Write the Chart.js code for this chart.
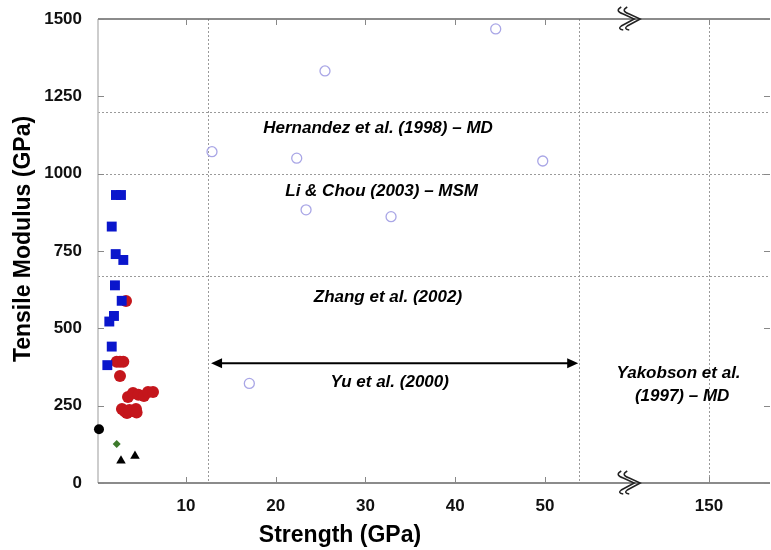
<!DOCTYPE html>
<html>
<head>
<meta charset="utf-8">
<script src="https://cdn.jsdelivr.net/npm/chart.js@4.4.1/dist/chart.umd.min.js"></script>
<style>
  html, body { margin: 0; padding: 0; background: #fff; }
  #wrap { width: 771px; height: 550px; }
</style>
</head>
<body>
<div id="wrap"><canvas id="myChart" width="771" height="550"></canvas></div>
<script>
// data (strength in GPa, modulus in GPa)
const squareX = [2.2, 2.76, 1.73, 2.17, 3.02, 2.09, 2.84, 1.98, 1.46, 1.73, 1.24];
const squareY = [931, 931, 829, 740, 721, 639, 589, 540, 522, 441, 381];

const redX = [3.32, 2.28, 2.65, 3.02, 2.65, 3.54, 4.1, 4.7, 5.32, 5.77, 6.33, 2.87, 3.43, 3.99, 4.43, 3.2, 3.7, 4.5];
const redY = [588, 392, 392, 392, 346, 278, 291, 285, 281, 294, 294, 239, 226, 233, 239, 231, 236, 228];

const blackX = [0.31];
const blackY = [174];

const diamondX = [2.28];
const diamondY = [126];

const triangleX = [2.76, 4.32];
const triangleY = [72, 87];

const openX = [12.9, 22.34, 49.75, 23.38, 32.85, 44.51, 25.49, 17.06];
const openY = [1071, 1050, 1041, 883, 861, 1468, 1332, 322];

const xTicks = [10, 20, 30, 40, 50, 150];
const yTicks = [0, 250, 500, 750, 1000, 1250, 1500];

// reference lines of the regions
const vLines = [12.5, 53.8, 150];
const hLines = [670, 1000, 1200];

// Yu et al. range arrow
const yuRange = [12.8, 53.7];
const yuArrowY = 387;

const notes = [
    { text: 'Hernandez et al. (1998) – MD', x: 31.4, y: 1148 },
    { text: 'Li & Chou (2003) – MSM', x: 31.8, y: 942 },
    { text: 'Zhang et al. (2002)', x: 32.5, y: 601 },
    { text: 'Yu et al. (2000)', x: 32.7, y: 324 },
    { text: 'Yakobson et al.', x: 146.6, y: 356 },
    { text: '(1997) – MD', x: 147.0, y: 281 }
];

// broken x axis: values past the gap are shifted left
const breakAt = 59.5;
const pos150 = 68.28;
function toAxis(v) {
    return v > 100 ? v - 150 + pos150 : v;
}

function pts(xs, ys) {
    return xs.map((x, i) => ({ x: toAxis(x), y: ys[i] }));
}

function zigzag(ctx, cx, cy) {
    ctx.save();
    ctx.strokeStyle = '#222';
    ctx.lineWidth = 1.5;
    [-3, 3].forEach(function (dx) {
        const x = cx + dx;
        ctx.beginPath();
        ctx.moveTo(x - 6, cy - 12);
        ctx.quadraticCurveTo(x - 13, cy - 8, x - 4, cy - 5);
        ctx.lineTo(x + 7, cy);
        ctx.lineTo(x - 6, cy + 7);
        ctx.quadraticCurveTo(x - 10, cy + 10, x - 4, cy + 11);
        ctx.stroke();
    });
    ctx.restore();
}

const decor = {
    id: 'decor',
    beforeDatasetsDraw(chart) {
        const ctx = chart.ctx;
        const a = chart.chartArea;
        const xs = chart.scales.x, ys = chart.scales.y;
        ctx.save();
        // dotted region lines
        ctx.strokeStyle = '#9a9a9a';
        ctx.lineWidth = 1;
        ctx.setLineDash([2, 2]);
        vLines.forEach(function (v) {
            const px = Math.round(xs.getPixelForValue(toAxis(v))) + 0.5;
            ctx.beginPath();
            ctx.moveTo(px, a.top);
            ctx.lineTo(px, a.bottom);
            ctx.stroke();
        });
        hLines.forEach(function (v) {
            const py = Math.round(ys.getPixelForValue(v)) + 0.5;
            ctx.beginPath();
            ctx.moveTo(a.left, py);
            ctx.lineTo(a.right, py);
            ctx.stroke();
        });
        ctx.setLineDash([]);

        // frame
        ctx.strokeStyle = '#bdbdbd';
        ctx.lineWidth = 1.5;
        ctx.beginPath();
        ctx.moveTo(a.left, a.top);
        ctx.lineTo(a.left, a.bottom);
        ctx.stroke();
        ctx.strokeStyle = '#666';
        ctx.beginPath();
        ctx.moveTo(a.left, a.top);
        ctx.lineTo(a.right, a.top);
        ctx.moveTo(a.left, a.bottom);
        ctx.lineTo(a.right, a.bottom);
        ctx.stroke();

        // inner ticks
        ctx.strokeStyle = '#888';
        ctx.lineWidth = 1;
        ctx.beginPath();
        xTicks.forEach(function (v) {
            const px = Math.round(xs.getPixelForValue(toAxis(v))) + 0.5;
            ctx.moveTo(px, a.bottom);
            ctx.lineTo(px, a.bottom - 6);
            ctx.moveTo(px, a.top);
            ctx.lineTo(px, a.top + 6);
        });
        yTicks.forEach(function (v) {
            const py = Math.round(ys.getPixelForValue(v)) + 0.5;
            ctx.moveTo(a.left, py);
            ctx.lineTo(a.left + 6, py);
            ctx.moveTo(a.right, py);
            ctx.lineTo(a.right - 6, py);
        });
        ctx.stroke();

        // Yu et al. arrow
        const x1 = xs.getPixelForValue(yuRange[0]);
        const x2 = xs.getPixelForValue(yuRange[1]);
        const ay = ys.getPixelForValue(yuArrowY);
        ctx.strokeStyle = '#000';
        ctx.fillStyle = '#000';
        ctx.lineWidth = 2;
        ctx.beginPath();
        ctx.moveTo(x1 + 8, ay);
        ctx.lineTo(x2 - 8, ay);
        ctx.stroke();
        ctx.beginPath();
        ctx.moveTo(x1, ay);
        ctx.lineTo(x1 + 11, ay - 5);
        ctx.lineTo(x1 + 11, ay + 5);
        ctx.closePath();
        ctx.fill();
        ctx.beginPath();
        ctx.moveTo(x2, ay);
        ctx.lineTo(x2 - 11, ay - 5);
        ctx.lineTo(x2 - 11, ay + 5);
        ctx.closePath();
        ctx.fill();
        ctx.restore();
    },
    afterDraw(chart) {
        const ctx = chart.ctx;
        const a = chart.chartArea;
        const xs = chart.scales.x, ys = chart.scales.y;
        const bx = xs.getPixelForValue(breakAt);
        zigzag(ctx, bx, a.top);
        zigzag(ctx, bx, a.bottom);

        ctx.save();
        ctx.fillStyle = '#000';
        ctx.textAlign = 'center';
        ctx.textBaseline = 'middle';
        ctx.font = 'italic bold 17px "Liberation Sans", Arial, sans-serif';
        notes.forEach(function (n) {
            ctx.fillText(n.text, xs.getPixelForValue(toAxis(n.x)), ys.getPixelForValue(n.y));
        });

        // axis titles
        ctx.font = 'bold 23px "Liberation Sans", Arial, sans-serif';
        ctx.fillText('Strength (GPa)', 340, 536);
        ctx.translate(24, 239);
        ctx.rotate(-Math.PI / 2);
        ctx.fillText('Tensile Modulus (GPa)', 0, 0);
        ctx.restore();
    }
};

const ctx = document.getElementById('myChart').getContext('2d');
const tickFont = { family: '"Liberation Sans", Arial, sans-serif', size: 17, weight: 'bold' };

const myChart = new Chart(ctx, {
    type: 'scatter',
    data: {
        datasets: [
            {
                label: 'squares',
                data: pts(squareX, squareY),
                pointStyle: 'rect',
                pointRadius: 7,
                backgroundColor: '#0a16cc',
                borderColor: '#0a16cc',
                borderWidth: 0,
                clip: false
            },
            {
                label: 'black circle',
                data: pts(blackX, blackY),
                pointStyle: 'circle',
                pointRadius: 5,
                backgroundColor: '#000',
                borderColor: '#000',
                borderWidth: 0,
                clip: false
            },
            {
                label: 'diamond',
                data: pts(diamondX, diamondY),
                pointStyle: 'rectRot',
                pointRadius: 4,
                backgroundColor: '#3d7a2c',
                borderColor: '#3d7a2c',
                borderWidth: 0,
                clip: false
            },
            {
                label: 'triangles',
                data: pts(triangleX, triangleY),
                pointStyle: 'triangle',
                pointRadius: 5.5,
                backgroundColor: '#000',
                borderColor: '#000',
                borderWidth: 0,
                clip: false
            },
            {
                label: 'red circles',
                data: pts(redX, redY),
                pointStyle: 'circle',
                pointRadius: 6,
                backgroundColor: '#c4161c',
                borderColor: '#c4161c',
                borderWidth: 0,
                clip: false
            },
            {
                label: 'open circles',
                data: pts(openX, openY),
                pointStyle: 'circle',
                pointRadius: 5,
                backgroundColor: 'rgba(0,0,0,0)',
                borderColor: '#a9a6e6',
                borderWidth: 1.3,
                clip: false
            }
        ]
    },
    options: {
        responsive: false,
        animation: false,
        layout: { autoPadding: false, padding: { top: 19, right: 1, left: 0, bottom: 0 } },
        plugins: {
            legend: { display: false },
            tooltip: { enabled: false }
        },
        scales: {
            x: {
                type: 'linear',
                min: 0.2,
                max: 75.07,
                grid: { display: false },
                border: { display: false },
                afterFit: function (s) { s.height = 67; },
                afterBuildTicks: function (s) {
                    s.ticks = xTicks.map(v => ({ value: toAxis(v) }));
                },
                ticks: {
                    font: tickFont,
                    color: '#111',
                    padding: 5,
                    maxRotation: 0,
                    autoSkip: false,
                    callback: function (value, index) { return String(xTicks[index]); }
                }
            },
            y: {
                type: 'linear',
                min: 0,
                max: 1500,
                grid: { display: false },
                border: { display: false },
                afterFit: function (s) { s.width = 98; },
                afterBuildTicks: function (s) {
                    s.ticks = yTicks.map(v => ({ value: v }));
                },
                ticks: {
                    font: tickFont,
                    color: '#111',
                    padding: 8,
                    callback: function (value) { return String(value); }
                }
            }
        }
    },
    plugins: [decor]
});
</script>
</body>
</html>
